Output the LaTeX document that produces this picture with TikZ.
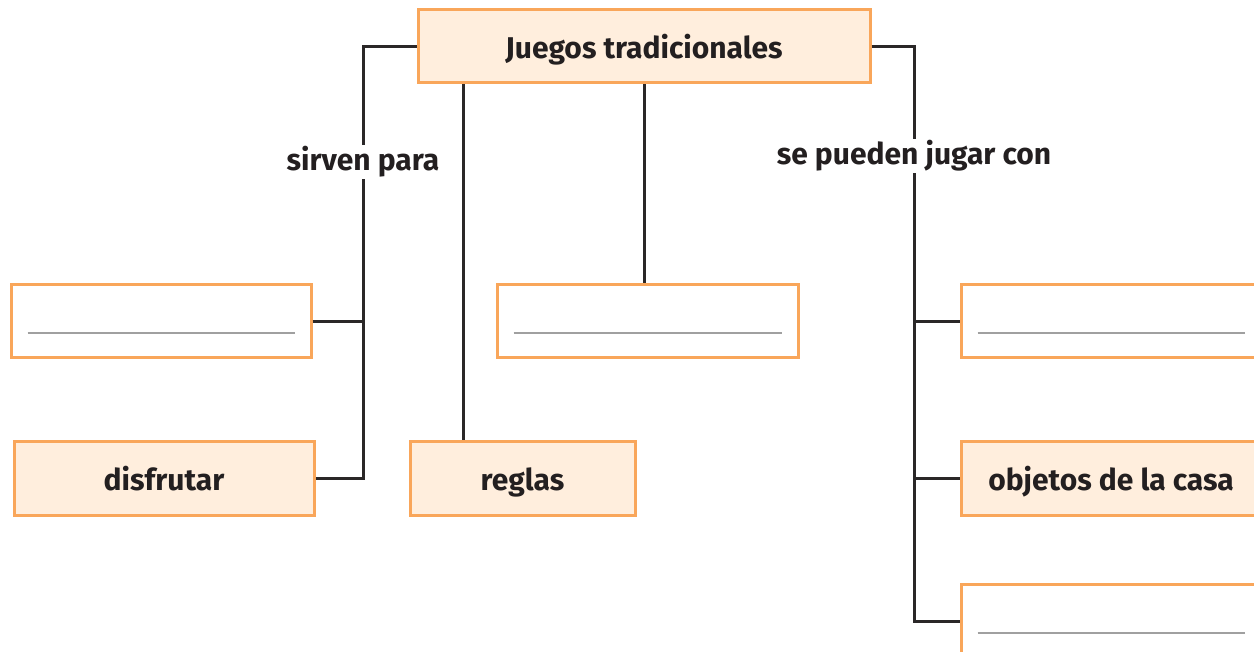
\documentclass[tikz,border=0pt]{standalone}
\usepackage{fontspec}
\setmainfont{Fira Sans}
\definecolor{boxorange}{HTML}{F9A65A}
\definecolor{boxfill}{HTML}{FFEEDD}
\definecolor{linedark}{HTML}{2A2728}
\definecolor{txtdark}{HTML}{231F20}
\definecolor{rulegray}{HTML}{A0A0A0}
\tikzset{
  cbox/.style={draw=boxorange, line width=3pt, rectangle, minimum width=300pt, minimum height=73pt, inner sep=0pt, text height=24pt, text depth=0pt, text=txtdark, font=\fontsize{30}{36}\selectfont\bfseries},
  filledbox/.style={cbox, fill=boxfill},
  emptybox/.style={cbox, fill=white},
  conn/.style={draw=linedark, line width=3pt},
  lbl/.style={fill=white, text=txtdark, inner sep=2pt, font=\fontsize{30}{36}\selectfont\bfseries},
  rulel/.style={draw=rulegray, line width=1.8pt}
}
\begin{document}
\begin{tikzpicture}[x=1pt,y=-1pt]
\useasboundingbox (0,0) rectangle (1254,652);
\fill[white] (0,0) rectangle (1254,652);
% boxes
\node[filledbox, minimum width=452pt] (top) at (644,46.5) {Juegos tradicionales};
\node[emptybox] (L1) at (161,321.5) {};
\node[filledbox] (L2) at (164,478.5) {disfrutar};
\node[emptybox, minimum width=301pt] (M1) at (647.5,321.5) {};
\node[filledbox, minimum width=225pt] (reglas) at (522.5,478.5) {reglas};
\node[emptybox] (R1) at (1111,321.5) {};
\node[filledbox] (R2) at (1111,478.5) {objetos de la casa};
\node[emptybox] (R3) at (1111,621) {};
% rules inside empty boxes
\foreach \b in {L1,M1,R1}{
  \draw[rulel] ([xshift=18pt,yshift=-11.5pt]\b.west) -- ([xshift=-18pt,yshift=-11.5pt]\b.east);
}
\draw[rulel] ([xshift=18pt,yshift=-12pt]R3.west) -- ([xshift=-18pt,yshift=-12pt]R3.east);
% junction coordinates
\coordinate (lx) at (363,0);
\coordinate (rx) at (914,0);
\coordinate (xr) at (463,0);
% connectors
\draw[conn] (top.west) -| (L2.east -| lx) -- (L2.east);
\draw[conn] (L1.east) -- (L1.east -| lx);
\draw[conn] (top.south -| xr) -- (reglas.north -| xr);
\draw[conn] (top.south) -- (top.south |- M1.north);
\draw[conn] (top.east) -| (R3.west -| rx) -- (R3.west);
\draw[conn] (R1.west) -- (R1.west -| rx);
\draw[conn] (R2.west) -- (R2.west -| rx);
% labels
\node[lbl] (sp) at (363,162) {sirven para};
\node[lbl] (pj) at (914,156) {se pueden jugar con};
\end{tikzpicture}
\end{document}
